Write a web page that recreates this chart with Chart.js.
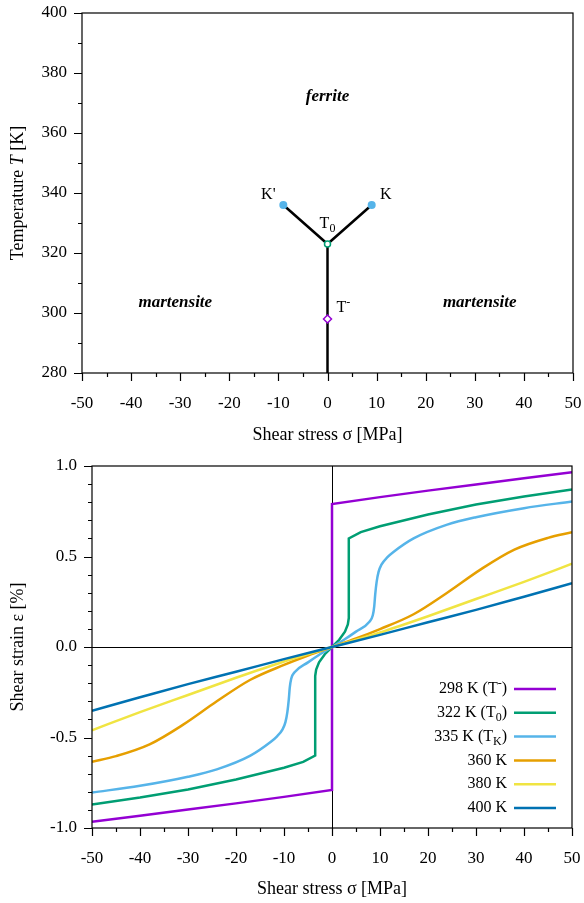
<!DOCTYPE html>
<html>
<head>
<meta charset="utf-8">
<script src="https://cdn.jsdelivr.net/npm/chart.js@4.4.1/dist/chart.umd.min.js"></script>
<style>
  html, body { margin: 0; padding: 0; background: #fff; }
  #wrap { position: relative; width: 584px; height: 903px; }
  .box { position: absolute; left: 0; width: 584px; }
</style>
</head>
<body>
<div id="wrap">
  <div class="box" style="top:0;height:445px"><canvas id="phase"></canvas></div>
  <div class="box" style="top:445px;height:458px"><canvas id="strain"></canvas></div>
</div>
<script>
const FONT = "'Liberation Serif', 'DejaVu Serif', serif";

// ---- top: phase diagram ----
const stemSigma = [0, 0];
const stemT = [280, 323];
const branchSigma = [-9, 0, 9];
const branchT = [336, 323, 336];
const kSigma = [-9, 9];
const kT = [336, 336];
const t0Sigma = [0];
const t0T = [323];
const tMinusSigma = [0];
const tMinusT = [298];

const regionNames = ['ferrite', 'martensite', 'martensite'];
const regionSigma = [0, -31, 31];
const regionT = [372, 303.5, 303.5];

// ---- bottom: strain vs stress ----
const seriesNames = ['298 K (T-)', '322 K (T0)', '335 K (TK)', '360 K', '380 K', '400 K'];
const seriesParts = [
  [['298 K (T', ''], ['-', 'sup'], [')', '']],
  [['322 K (T', ''], ['0', 'sub'], [')', '']],
  [['335 K (T', ''], ['K', 'sub'], [')', '']],
  [['360 K', '']],
  [['380 K', '']],
  [['400 K', '']]
];
const seriesColors = ['#9400D3', '#009E73', '#56B4E9', '#E69F00', '#F0E442', '#0072B2'];

const sigma298 = [-50, -40, -30, -20, -10, 0, 0, 10, 20, 30, 40, 50];
const eps298 = [-0.965, -0.932, -0.898, -0.864, -0.828, -0.79, 0.79, 0.828, 0.864, 0.898, 0.932, 0.965];

const sigma322 = [-50, -40, -30, -20, -10, -6, -3.5, -3.5, -3.3, -2.7, -1.5, 0, 1.5, 2.7, 3.3, 3.5, 3.5, 6, 10, 20, 30, 40, 50];
const eps322 = [-0.87, -0.832, -0.787, -0.732, -0.667, -0.635, -0.60, -0.16, -0.125, -0.085, -0.04, 0, 0.04, 0.085, 0.125, 0.16, 0.60, 0.635, 0.667, 0.732, 0.787, 0.832, 0.87];

const sigma335 = [-50, -40, -30, -24, -17, -12.8, -11.5, -10.3, -9.7, -9.3, -9.0, -8.8, -8.5, -7.8, -5, -2.5, 0,
                  2.5, 5, 7.8, 8.5, 8.8, 9.0, 9.3, 9.7, 10.3, 11.5, 12.8, 17, 24, 30, 40, 50];
const eps335 = [-0.804, -0.767, -0.717, -0.676, -0.60, -0.525, -0.495, -0.455, -0.415, -0.36, -0.29, -0.225, -0.175, -0.14, -0.085, -0.04, 0,
                0.04, 0.085, 0.14, 0.175, 0.225, 0.29, 0.36, 0.415, 0.455, 0.495, 0.525, 0.60, 0.676, 0.717, 0.767, 0.804];

const sigma360 = [-50, -45, -38, -31, -24, -17, -10, -5, 0, 5, 10, 17, 24, 31, 38, 45, 50];
const eps360 = [-0.634, -0.603, -0.538, -0.429, -0.30, -0.181, -0.099, -0.047, 0, 0.047, 0.099, 0.181, 0.30, 0.429, 0.538, 0.603, 0.634];

const sigma380 = [-50, -40, -30, -20, -10, 0, 10, 20, 30, 40, 50];
const eps380 = [-0.46, -0.36, -0.265, -0.17, -0.08, 0, 0.08, 0.17, 0.265, 0.36, 0.46];

const sigma400 = [-50, -40, -30, -20, -10, 0, 10, 20, 30, 40, 50];
const eps400 = [-0.352, -0.278, -0.205, -0.137, -0.067, 0, 0.067, 0.137, 0.205, 0.278, 0.352];

const seriesSigma = [sigma298, sigma322, sigma335, sigma360, sigma380, sigma400];
const seriesEps = [eps298, eps322, eps335, eps360, eps380, eps400];
// curves with a vertical jump stay straight-segment, the others are smoothed
const seriesSmooth = [false, false, true, true, true, true];

function pts(xs, ys) {
  return xs.map((x, i) => ({ x: x, y: ys[i] }));
}

function setFont(ctx, size, mode) {
  const small = mode === 'sub' || mode === 'sup';
  const s = small ? Math.round(size * 0.72) : size;
  let st = '';
  if (mode === 'it') st = 'italic ';
  if (mode === 'bi') st = 'bold italic ';
  ctx.font = st + s + 'px ' + FONT;
}

function drawRich(ctx, parts, x, y, size, align) {
  let w = 0;
  parts.forEach(p => { setFont(ctx, size, p[1]); w += ctx.measureText(p[0]).width; });
  let cx = x;
  if (align === 'right') cx = x - w;
  if (align === 'center') cx = x - w / 2;
  ctx.textAlign = 'left';
  ctx.textBaseline = 'middle';
  parts.forEach(p => {
    setFont(ctx, size, p[1]);
    let dy = 0;
    if (p[1] === 'sub') dy = size * 0.3;
    if (p[1] === 'sup') dy = -size * 0.35;
    ctx.fillText(p[0], cx, y + dy);
    cx += ctx.measureText(p[0]).width;
  });
}

// frame, tick marks (major + minor), optional zero lines
function axisBox(xMinor, xMajor, yMinor, yMajor, zeroLines) {
  return {
    id: 'axisBox',
    beforeDatasetsDraw(chart) {
      if (!zeroLines) return;
      const a = chart.chartArea, ctx = chart.ctx;
      const px = chart.scales.x.getPixelForValue(0);
      const py = chart.scales.y.getPixelForValue(0);
      ctx.save();
      ctx.strokeStyle = '#000';
      ctx.lineWidth = 1;
      ctx.beginPath();
      ctx.moveTo(Math.round(px) + 0.5, a.top);
      ctx.lineTo(Math.round(px) + 0.5, a.bottom);
      ctx.moveTo(a.left, Math.round(py) + 0.5);
      ctx.lineTo(a.right, Math.round(py) + 0.5);
      ctx.stroke();
      ctx.restore();
    },
    afterDatasetsDraw(chart) {
      const a = chart.chartArea, ctx = chart.ctx;
      const xs = chart.scales.x, ys = chart.scales.y;
      ctx.save();
      ctx.strokeStyle = '#000';
      ctx.lineWidth = 1.2;
      ctx.strokeRect(a.left, a.top, a.right - a.left, a.bottom - a.top);
      ctx.beginPath();
      let n = Math.round((xs.max - xs.min) / xMinor);
      for (let i = 0; i <= n; i++) {
        const v = xs.min + i * xMinor;
        const major = Math.abs(v / xMajor - Math.round(v / xMajor)) < 1e-6;
        const p = Math.round(xs.getPixelForValue(v)) + 0.5;
        ctx.moveTo(p, a.bottom);
        ctx.lineTo(p, a.bottom + (major ? 8 : 4));
      }
      n = Math.round((ys.max - ys.min) / yMinor);
      for (let i = 0; i <= n; i++) {
        const v = ys.min + i * yMinor;
        const major = Math.abs(v / yMajor - Math.round(v / yMajor)) < 1e-6;
        const p = Math.round(ys.getPixelForValue(v)) + 0.5;
        ctx.moveTo(a.left, p);
        ctx.lineTo(a.left - (major ? 8 : 4), p);
      }
      ctx.stroke();
      ctx.restore();
    }
  };
}

function axisTitles(xParts, yParts, xTitleY) {
  return {
    id: 'axisTitles',
    afterDraw(chart) {
      const a = chart.chartArea, ctx = chart.ctx;
      ctx.save();
      ctx.fillStyle = '#000';
      drawRich(ctx, xParts, (a.left + a.right) / 2, xTitleY, 18, 'center');
      ctx.translate(18, (a.top + a.bottom) / 2);
      ctx.rotate(-Math.PI / 2);
      drawRich(ctx, yParts, 0, 0, 18, 'center');
      ctx.restore();
    }
  };
}

function scales(xMin, xMax, xStep, yMin, yMax, yStep, yFmt, yWidth, xHeight) {
  return {
    x: {
      type: 'linear', min: xMin, max: xMax,
      grid: { display: false, drawTicks: false },
      border: { display: false },
      ticks: { stepSize: xStep, padding: 20, color: '#000', font: { family: FONT, size: 17 } },
      afterFit(s) { s.height = xHeight; s.paddingLeft = 0; s.paddingRight = 0; }
    },
    y: {
      type: 'linear', min: yMin, max: yMax,
      grid: { display: false, drawTicks: false },
      border: { display: false },
      ticks: { stepSize: yStep, padding: 15, color: '#000', font: { family: FONT, size: 17 }, callback: yFmt },
      afterFit(s) { s.width = yWidth; s.paddingTop = 0; s.paddingBottom = 0; }
    }
  };
}

// ---------- top chart ----------
const phaseLabels = {
  id: 'phaseLabels',
  afterDatasetsDraw(chart) {
    const ctx = chart.ctx, xs = chart.scales.x, ys = chart.scales.y;
    ctx.save();
    ctx.fillStyle = '#000';
    regionNames.forEach((name, i) => {
      drawRich(ctx, [[name, 'bi']], xs.getPixelForValue(regionSigma[i]), ys.getPixelForValue(regionT[i]), 17, 'center');
    });
    const kpx = xs.getPixelForValue(kSigma[0]), kpy = ys.getPixelForValue(kT[0]);
    drawRich(ctx, [["K'", '']], kpx - 15, kpy - 10, 16, 'center');
    const kx = xs.getPixelForValue(kSigma[1]), ky = ys.getPixelForValue(kT[1]);
    drawRich(ctx, [['K', '']], kx + 14, ky - 10, 16, 'center');
    const t0x = xs.getPixelForValue(t0Sigma[0]), t0y = ys.getPixelForValue(t0T[0]);
    drawRich(ctx, [['T', ''], ['0', 'sub']], t0x, t0y - 20, 16, 'center');
    const tmx = xs.getPixelForValue(tMinusSigma[0]), tmy = ys.getPixelForValue(tMinusT[0]);
    drawRich(ctx, [['T', ''], ['-', 'sup']], tmx + 9, tmy - 11, 16, 'left');
    ctx.restore();
  }
};

new Chart(document.getElementById('phase'), {
  type: 'line',
  data: {
    datasets: [
      { data: pts(stemSigma, stemT), borderColor: '#000', borderWidth: 2.5, pointRadius: 0, tension: 0, order: 3 },
      { data: pts(branchSigma, branchT), borderColor: '#000', borderWidth: 2.5, pointRadius: 0, tension: 0, order: 3 },
      { data: pts(kSigma, kT), showLine: false, pointStyle: 'circle', pointRadius: 4, backgroundColor: '#56B4E9', borderColor: '#56B4E9', borderWidth: 0, order: 1 },
      { data: pts(t0Sigma, t0T), showLine: false, pointStyle: 'circle', pointRadius: 3, backgroundColor: '#fff', borderColor: '#009E73', borderWidth: 1.5, order: 1 },
      { data: pts(tMinusSigma, tMinusT), showLine: false, pointStyle: 'rectRot', pointRadius: 4, backgroundColor: '#fff', borderColor: '#9400D3', borderWidth: 1.5, order: 1 }
    ]
  },
  options: {
    responsive: true, maintainAspectRatio: false, animation: false,
    layout: { padding: { top: 13, right: 11, left: 0, bottom: 0 } },
    plugins: { legend: { display: false }, tooltip: { enabled: false } },
    scales: scales(-50, 50, 10, 280, 400, 20, v => v, 82, 72)
  },
  plugins: [axisBox(5, 10, 10, 20, false), phaseLabels,
    axisTitles([['Shear stress σ [MPa]', '']], [['Temperature ', ''], ['T', 'it'], [' [K]', '']], 435)]
});

// ---------- bottom chart ----------
const strainLegend = {
  id: 'strainLegend',
  afterDatasetsDraw(chart) {
    const a = chart.chartArea, ctx = chart.ctx;
    ctx.save();
    ctx.fillStyle = '#000';
    seriesParts.forEach((parts, i) => {
      const y = a.bottom - 20 - (seriesParts.length - 1 - i) * 23.8;
      drawRich(ctx, parts, a.right - 65, y, 16, 'right');
      ctx.strokeStyle = seriesColors[i];
      ctx.lineWidth = 2.5;
      ctx.beginPath();
      ctx.moveTo(a.right - 58, y);
      ctx.lineTo(a.right - 16, y);
      ctx.stroke();
    });
    ctx.restore();
  }
};

new Chart(document.getElementById('strain'), {
  type: 'line',
  data: {
    datasets: seriesNames.map((name, i) => ({
      label: name,
      data: pts(seriesSigma[i], seriesEps[i]),
      borderColor: seriesColors[i],
      borderWidth: 2.5,
      pointRadius: 0,
      tension: 0,
      cubicInterpolationMode: seriesSmooth[i] ? 'monotone' : 'default',
      order: seriesNames.length - 1 - i
    }))
  },
  options: {
    responsive: true, maintainAspectRatio: false, animation: false,
    layout: { padding: { top: 21, right: 12, left: 0, bottom: 0 } },
    plugins: { legend: { display: false }, tooltip: { enabled: false } },
    scales: scales(-50, 50, 10, -1, 1, 0.5, v => Number(v).toFixed(1), 92, 75)
  },
  plugins: [axisBox(5, 10, 0.1, 0.5, true), strainLegend,
    axisTitles([['Shear stress σ [MPa]', '']], [['Shear strain ε [%]', '']], 444)]
});
</script>
</body>
</html>
